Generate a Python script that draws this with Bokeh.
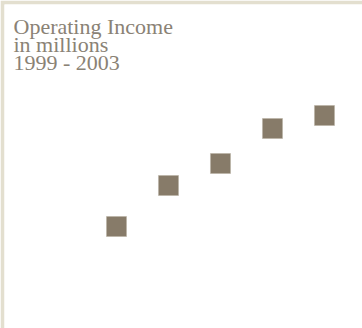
from bokeh.plotting import figure
from bokeh.models import ColumnDataSource, Range1d, Label
from bokeh.embed import file_html
from bokeh.resources import INLINE

years = [1999, 2000, 2001, 2002, 2003]
income = [102, 143, 165, 200, 213]  # millions (estimated)
title_lines = ["Operating Income", "in millions", "1999 - 2003"]

src = ColumnDataSource(dict(year=years, income=income))

p = figure(width=362, height=328, output_backend="svg", toolbar_location=None,
           x_range=Range1d(1996.846, 2003.731), y_range=Range1d(0, 324),
           min_border_left=4, min_border_top=4, min_border_right=0, min_border_bottom=0)
p.border_fill_color = "#e3dfcf"
p.background_fill_color = "white"
p.outline_line_color = None
p.axis.visible = False
p.grid.visible = False

p.scatter("year", "income", source=src, marker="square", size=20,
          fill_color="#877b69", line_color="#b9b1a4", line_width=0.6)

for i, t in enumerate(title_lines):
    p.add_layout(Label(x=9, y=302 - 18 * i, x_units="screen", y_units="screen",
                       text=t, text_font="Liberation Serif", text_font_size="22px",
                       text_color="#8a8275", text_baseline="alphabetic"))

open("out.html", "w").write(file_html(p, INLINE))
